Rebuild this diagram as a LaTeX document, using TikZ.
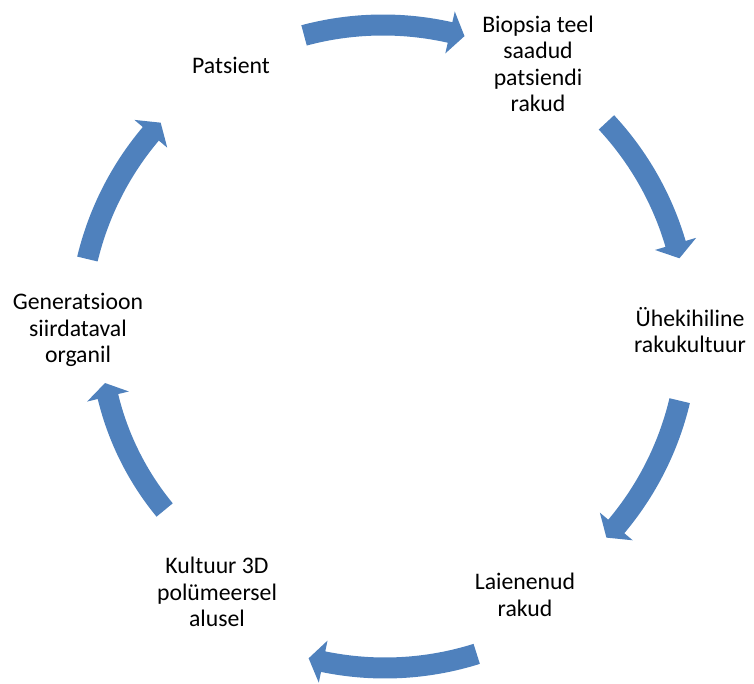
\documentclass[tikz,border=0pt]{standalone}
\usepackage{fontspec}
\setmainfont{Carlito}
\definecolor{cycleblue}{RGB}{79,129,189}
\tikzset{
  cycletext/.style={align=center, inner sep=0.75pt, font=\fontsize{17.8}{19.9}\selectfont},
  cyclefill/.style={fill=cycleblue, draw=none}
}
% block arrow on a circle: centre x, centre y, radius, tail angle, tip angle
\newcommand{\circarrow}[5]{%
  \begin{scope}[shift={(#1,#2)}]
    \fill[cyclefill] ({#4}:{#3+10.5}) arc[start angle={#4}, end angle={#5-2.8}, radius={#3+10.5}]
      -- ({#5-2.8}:{#3+21.5}) -- ({#5}:{#3}) -- ({#5-2.8}:{#3-21.5}) -- ({#5-2.8}:{#3-10.5})
      arc[start angle={#5-2.8}, end angle={#4}, radius={#3-10.5}] -- cycle;
  \end{scope}}

\begin{document}
\begin{tikzpicture}[x=0.75pt,y=0.75pt,yscale=-1,xscale=1]
\useasboundingbox (0,0) rectangle (754,684);

%Shape: Circular Arrows
\circarrow{383}{330}{305}{-105}{-74.5}
\circarrow{383}{330}{305}{-42.9}{-13.6}
\circarrow{383}{330}{305}{13.4}{42.9}
\circarrow{385}{363}{305}{72.5}{104.5}
\circarrow{383}{330}{283}{140.5}{169.2}
\circarrow{383}{330}{304}{-166.5}{-137}

% Text Nodes
\node[cycletext] (patsient) at (231,65) {Patsient};
\node[cycletext] (biopsia) at (538,64) {Biopsia teel\\saadud\\patsiendi\\rakud};
\node[cycletext] (yhekihiline) at (690,330) {Ühekihiline\\rakukultuur};
\node[cycletext] (laienenud) at (525,595) {Laienenud\\rakud};
\node[cycletext] (kultuur) at (217,592) {Kultuur 3D\\polümeersel\\alusel};
\node[cycletext] (generatsioon) at (78,330) {Generatsioon\\siirdataval\\organil};

\end{tikzpicture}
\end{document}
